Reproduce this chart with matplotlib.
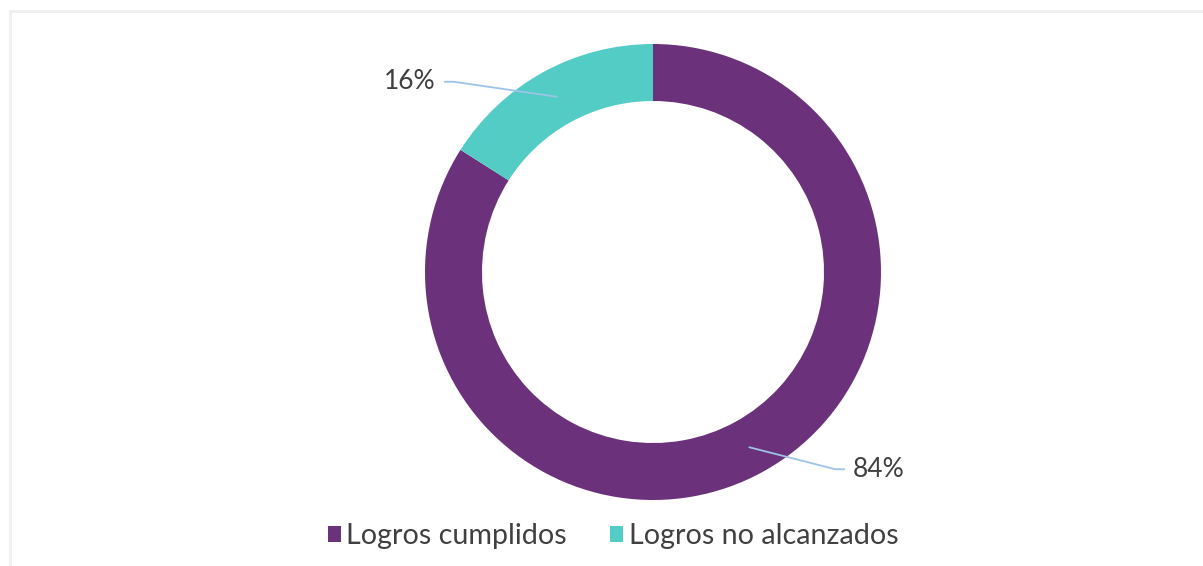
import numpy as np
import matplotlib.pyplot as plt
from matplotlib.patches import Patch, Rectangle

labels = ["Logros cumplidos", "Logros no alcanzados"]
values = [84, 16]
colors = ["#6B327B", "#53CCC5"]

plt.rcParams['font.family'] = ['Lato', 'DejaVu Sans']

W, H = 1203, 566
fig = plt.figure(figsize=(W / 100, H / 100), dpi=100)
ax = fig.add_axes([0, 0, 1, 1])

# light frame around the chart area
fig.patches.append(Rectangle((9.5 / W, -0.1), 1.2, 1 - 10.5 / H + 0.1,
                             transform=fig.transFigure, fill=False,
                             edgecolor="#EFEFEF", linewidth=2))

cx, cy, R = 653, H - 272, 228
wedges, _ = ax.pie(values, colors=colors, startangle=90, counterclock=False,
                   radius=R, center=(cx, cy), frame=True,
                   wedgeprops=dict(width=57, linewidth=0))
ax.set_xlim(0, W)
ax.set_ylim(0, H)
ax.axis('off')

# leader lines + percentage labels
offsets = [((86, -22), (95, -22)), ((-103, 15), (-112, 15))]
for w, v, (elbow, end) in zip(wedges, values, offsets):
    ang = np.deg2rad((w.theta1 + w.theta2) / 2)
    px = cx + 200 * np.cos(ang)
    py = cy + 200 * np.sin(ang)
    xs = [px, px + elbow[0], px + end[0]]
    ys = [py, py + elbow[1], py + end[1]]
    ax.plot(xs, ys, color="#9DC3E6", lw=1.3, solid_capstyle='round')
    ha = 'left' if end[0] > 0 else 'right'
    tx = xs[-1] + (8 if end[0] > 0 else -9)
    ax.text(tx, ys[-1], f"{v}%", ha=ha, va='center', fontsize=19, color="#404040")

handles = [Patch(facecolor=c, edgecolor='none') for c in colors]
fig.legend(handles, labels, loc='center', bbox_to_anchor=(613 / W, 1 - 536 / H),
           ncol=2, frameon=False, fontsize=20.6, labelcolor="#404040",
           handlelength=0.46, handleheight=0.46, handletextpad=0.2,
           columnspacing=1.5)

fig.savefig("out.png", dpi=100)
